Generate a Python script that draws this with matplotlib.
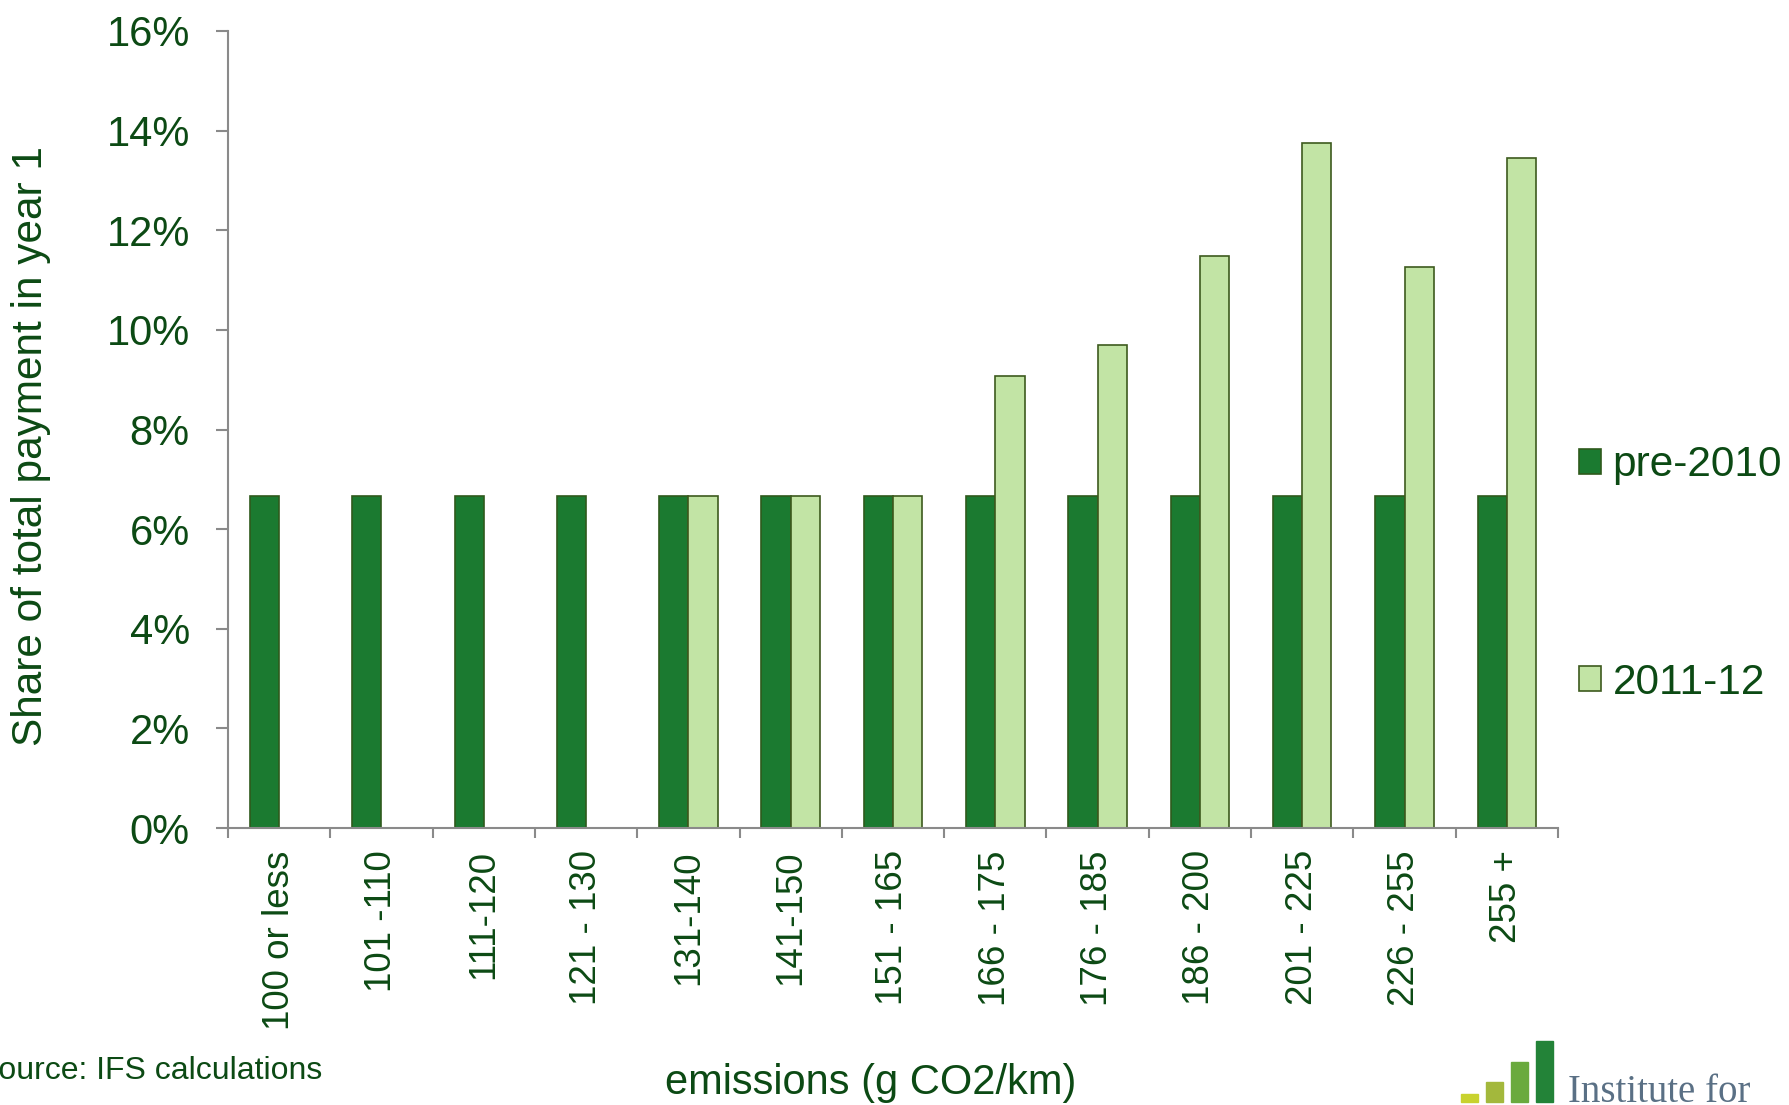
import matplotlib.pyplot as plt
from matplotlib.patches import Rectangle
import numpy as np

plt.rcParams['font.family'] = ['Liberation Sans', 'DejaVu Sans']

# Bandas de emissões e participação no pagamento total do ano 1 (%)
bandas = ['100 or less', '101 -110', '111-120', '121 - 130', '131-140', '141-150',
          '151 - 165', '166 - 175', '176 - 185', '186 - 200', '201 - 225',
          '226 - 255', '255 +']
pre_2010 = [6.67, 6.67, 6.67, 6.67, 6.67, 6.67, 6.67, 6.67, 6.67, 6.67, 6.67, 6.67, 6.67]
ano_2011_12 = [0, 0, 0, 0, 6.67, 6.67, 6.67, 9.08, 9.70, 11.49, 13.76, 11.27, 13.46]
yticks = [0, 2, 4, 6, 8, 10, 12, 14, 16]

verde_texto = '#0c4a14'
cinza = '#8a8a8a'

fig = plt.figure(figsize=(17.9, 11.05), dpi=100)
ax = fig.add_axes([228 / 1790, 1 - 828 / 1105, (1558 - 228) / 1790, (828 - 31) / 1105])

x = np.arange(len(bandas))
w = 0.2857
ax.bar(x - w / 2, pre_2010, width=w, color='#1b7a30', edgecolor='#2f5a1c',
       linewidth=1.2, label='pre-2010')
ax.bar(x + w / 2, ano_2011_12, width=w, color='#c2e4a5', edgecolor='#3d5a1e',
       linewidth=1.2, label='2011-12')

ax.set_xlim(-0.5, len(bandas) - 0.5)
ax.set_ylim(0, 16)
ax.set_yticks(yticks)
ax.set_yticklabels([f'{v}%' for v in yticks])

# rótulos no centro, marcas de tick nas divisões entre bandas
ax.set_xticks(x)
ax.set_xticklabels(bandas, rotation=90, ha='center', va='top')
ax.set_xticks(np.arange(-0.5, len(bandas)), minor=True)
ax.tick_params(axis='x', which='major', length=0, pad=16, labelsize=26.5, labelcolor=verde_texto)
ax.tick_params(axis='x', which='minor', length=7.5, width=1.5, color=cinza, direction='out')
ax.tick_params(axis='y', length=8.5, width=1.5, color=cinza, pad=19, labelsize=30,
               labelcolor=verde_texto)

for lado in ['top', 'right']:
    ax.spines[lado].set_visible(False)
for lado in ['left', 'bottom']:
    ax.spines[lado].set_color(cinza)
    ax.spines[lado].set_linewidth(1.5)

fig.text(31 / 1790, 1 - 446 / 1105, 'Share of total payment in year 1', rotation=90,
         ha='center', va='center', fontsize=30.5, color=verde_texto)
fig.text(871 / 1790, 1 - 1083 / 1105, 'emissions (g CO2/km)', ha='center', va='center',
         fontsize=30, color=verde_texto)
fig.text(-23 / 1790, 1 - 1071 / 1105, 'Source: IFS calculations', ha='left', va='center',
         fontsize=23, color=verde_texto)

leg = ax.legend(loc='center left', bbox_to_anchor=(1579 / 1790, 1 - 574 / 1105),
                bbox_transform=fig.transFigure, frameon=False, fontsize=30.5,
                labelspacing=4.2, handlelength=0.53, handleheight=0.53,
                handletextpad=0.26, borderaxespad=0, borderpad=0)
for t in leg.get_texts():
    t.set_color(verde_texto)

# logotipo no canto inferior direito
logo = [(1461, 1094, '#c8d22e'), (1486, 1082, '#a3b83c'),
        (1511, 1062, '#6aaa3e'), (1536, 1041, '#238338')]
for lx, ly, cor in logo:
    fig.patches.append(Rectangle((lx / 1790, 1 - 1102 / 1105), 17 / 1790, (1102 - ly) / 1105,
                                 transform=fig.transFigure, color=cor))
fig.text(1568 / 1790, 1 - 1102 / 1105, 'Institute for', ha='left', va='baseline',
         fontsize=28, family='Liberation Serif', color='#5a7085')

fig.savefig('out.png', dpi=100)
